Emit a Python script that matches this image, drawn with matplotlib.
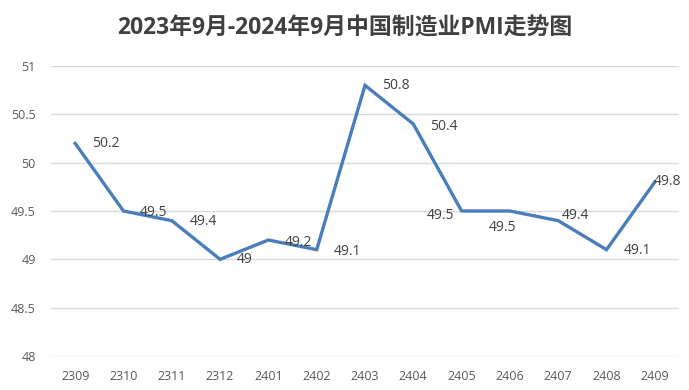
import matplotlib
matplotlib.use("Agg")
import matplotlib.pyplot as plt

plt.rcParams['font.family'] = ['Open Sans', 'Noto Sans CJK SC', 'DejaVu Sans']

categories = ["2309", "2310", "2311", "2312", "2401", "2402", "2403",
              "2404", "2405", "2406", "2407", "2408", "2409"]
pmi = [50.2, 49.5, 49.4, 49.0, 49.2, 49.1, 50.8, 50.4, 49.5, 49.5, 49.4, 49.1, 49.8]
labels = ["50.2", "49.5", "49.4", "49", "49.2", "49.1", "50.8", "50.4",
          "49.5", "49.5", "49.4", "49.1", "49.8"]
yticks = [48, 48.5, 49, 49.5, 50, 50.5, 51]
ytick_labels = ["48", "48.5", "49", "49.5", "50", "50.5", "51"]
title = "2023年9月-2024年9月中国制造业PMI走势图"

# label placement (pixel offsets, horizontal alignment)
offsets = [(17, 0, 'left'), (16, -1, 'left'), (18, -1, 'left'), (17, 0, 'left'),
           (16, -2, 'left'), (17, -2, 'left'), (17, 0, 'left'), (17, -2, 'left'),
           (-7, -4, 'right'), (-7, -16, 'center'), (4, 5, 'left'), (17, -1, 'left'),
           (-1, 1, 'left')]

fig = plt.figure(figsize=(6.89, 3.90), dpi=100)
ax = fig.add_axes([51/689, 1-356/390, 628/689, 290/390])
x = list(range(len(categories)))
ax.plot(x, pmi, color='#4a7ebb', linewidth=2.4, solid_joinstyle='miter')
ax.set_xlim(-0.5, len(categories) - 0.5)
ax.set_ylim(48, 51)
ax.set_yticks(yticks)
ax.set_yticklabels(ytick_labels)
ax.set_xticks(x)
ax.set_xticklabels(categories)
ax.tick_params(axis='both', length=0, labelsize=9, colors='#595959')
ax.tick_params(axis='y', pad=11)
ax.tick_params(axis='x', pad=10)
for s in ax.spines.values():
    s.set_visible(False)
ax.grid(axis='y', color='#d9d9d9', linewidth=1)
ax.set_axisbelow(True)

for xi, yi, lab, (dx, dy, ha) in zip(x, pmi, labels, offsets):
    ax.annotate(lab, (xi, yi), xytext=(dx * 0.72, dy * 0.72), textcoords='offset points',
                ha=ha, va='center', fontsize=10, color='#404040')

fig.text(0.5, 1 - 29/390, title, ha='center', va='center', fontsize=16.5,
         fontweight='bold', color='#404040',
         family=['Open Sans', 'Noto Sans CJK SC', 'DejaVu Sans'])

fig.savefig('out.png', dpi=100)
